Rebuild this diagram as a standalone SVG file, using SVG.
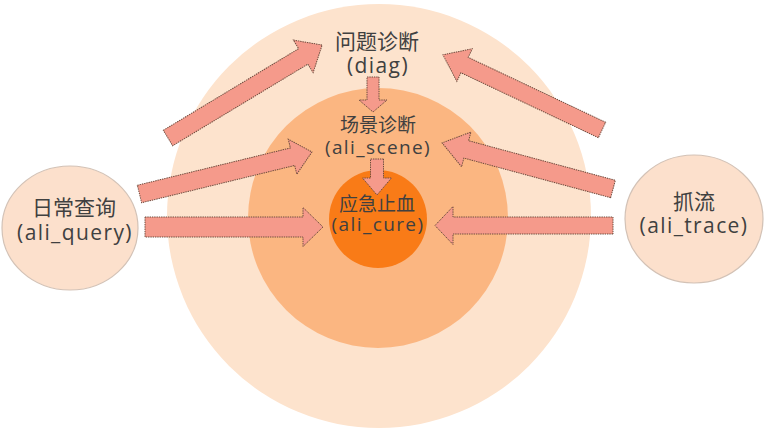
<svg xmlns="http://www.w3.org/2000/svg" width="766" height="429" viewBox="0 0 766 429">
  <defs>
    <style>
      .t { font-family: "Open Sans", "Noto Sans CJK SC", sans-serif; font-size: 20px; fill: #404040; text-anchor: middle; }
      .l { letter-spacing: 1.4px; }
      .arr { fill: #F59A8B; stroke: #6E4C3E; stroke-width: 1; stroke-dasharray: 1.4 0.9; }
      .side { fill: #FCE0CC; stroke: #D3C2B6; stroke-width: 1.2; }
    </style>
  </defs>
  <rect width="766" height="429" fill="#FFFFFF"/>

  <g id="diag">
    <circle cx="379" cy="216" r="212" fill="#FDE3CD"/>
    <text class="t" x="377" y="49" style="font-size:21px">问题诊断</text>
    <text class="t l" x="378" y="73" style="font-size:21px">(diag)</text>
  </g>
  <g id="scene">
    <circle cx="378" cy="218" r="130" fill="#FBB681"/>
    <text class="t" x="378" y="132" style="font-size:19px">场景诊断</text>
    <text class="t l" x="378" y="154" style="font-size:19px">(ali_scene)</text>
  </g>
  <g id="cure">
    <circle cx="378" cy="219" r="49" fill="#F97B17"/>
    <text class="t" x="377" y="211" style="font-size:19px">应急止血</text>
    <text class="t l" x="378" y="231" style="font-size:19px">(ali_cure)</text>
  </g>
  <g id="query">
    <ellipse class="side" cx="70" cy="228" rx="68" ry="62"/>
    <text class="t" x="74" y="215" style="font-size:21px">日常查询</text>
    <text class="t l" x="75" y="240" style="font-size:21px">(ali_query)</text>
  </g>
  <g id="trace">
    <ellipse class="side" cx="694" cy="219" rx="69" ry="64"/>
    <text class="t" x="694" y="209" style="font-size:21px">抓流</text>
    <text class="t l" x="694" y="233" style="font-size:21px">(ali_trace)</text>
  </g>

  <g id="connectors">
    <path class="arr" transform="translate(168,138) rotate(-31.1)" d="M0,-9 L158,-9 L158,-19 L180,0 L158,19 L158,9 L0,9 Z"/>
    <path class="arr" transform="translate(139.5,194) rotate(-13.7)" d="M0,-9 L157.5,-9 L157.5,-18 L177.5,0 L157.5,18 L157.5,9 L0,9 Z"/>
    <path class="arr" transform="translate(145,227)" d="M0,-10 L158,-10 L158,-19.5 L178,0 L158,19.5 L158,10 L0,10 Z"/>
    <path class="arr" transform="translate(602,130) rotate(-154.7)" d="M0,-8.5 L152,-8.5 L152,-18 L176,0 L152,18 L152,8.5 L0,8.5 Z"/>
    <path class="arr" transform="translate(613,189) rotate(-164.9)" d="M0,-9 L152,-9 L152,-18 L177,0 L152,18 L152,9 L0,9 Z"/>
    <path class="arr" transform="translate(613,225.5) rotate(180)" d="M0,-8.5 L160,-8.5 L160,-19 L178,0 L160,19 L160,8.5 L0,8.5 Z"/>
    <path class="arr" transform="translate(373,77) rotate(90)" d="M0,-6 L23,-6 L23,-14 L35,0 L23,14 L23,6 L0,6 Z"/>
    <path class="arr" transform="translate(377,159) rotate(90)" d="M0,-6.5 L19,-6.5 L19,-14.5 L36,0 L19,14.5 L19,6.5 L0,6.5 Z"/>
  </g>
</svg>
